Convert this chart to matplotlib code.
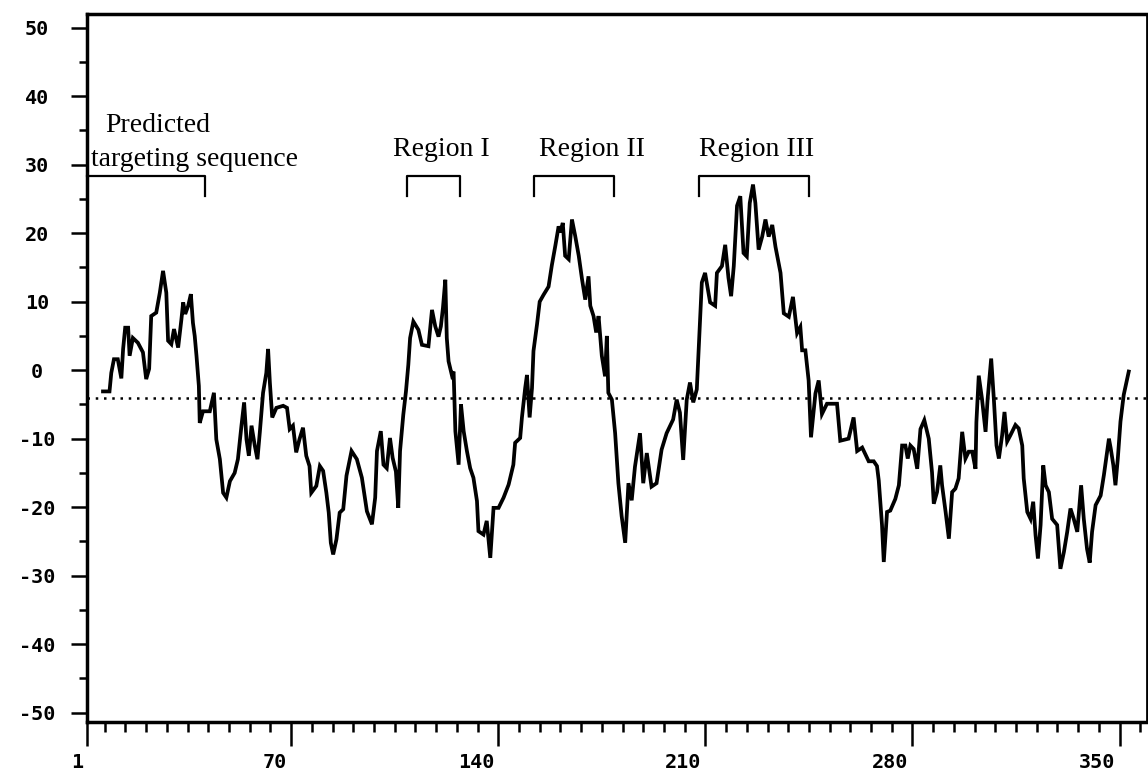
#!/usr/bin/env python3
"""hydropathy profile with targeting sequence and region brackets"""

import matplotlib
matplotlib.use('Agg')
import matplotlib.pyplot as plt
import matplotlib.transforms as mtransforms

# hydropathy trace (residue position, score)
resid = [
    6.4, 8.6, 9.2, 10.1, 11.4, 12.6, 13.2, 13.9, 14.9, 15.4, 16.5, 18.2, 19.9,
    21.0, 22.0, 22.7, 24.4, 25.6, 26.7, 27.8, 28.4, 29.5, 30.4, 31.8, 32.9,
    33.5, 34.2, 35.2, 36.1, 36.8, 37.4, 38.0, 38.8, 39.1, 40.2, 42.5, 43.9,
    44.7, 45.9, 47.0, 48.1, 49.3, 50.9, 52.0, 53.2, 54.1, 54.9, 55.7, 56.6,
    57.7, 58.6, 59.4, 60.5, 61.6, 62.2, 62.8, 63.6, 65.0, 67.3, 68.6, 69.5,
    70.6, 71.7, 72.8, 74.0, 75.1, 76.2, 76.8, 78.5, 79.7, 80.8, 81.9, 82.7,
    83.4, 84.2, 85.3, 86.4, 87.6, 88.7, 90.4,
    92.2, 93.9, 95.6, 97.3, 98.4, 99.0, 100.3, 101.2, 102.3, 103.4, 104.3,
    105.4, 106.2, 106.8, 107.9, 108.8, 109.6, 110.2, 111.3, 113.0, 114.2,
    116.4, 117.0, 117.6, 118.7, 119.8, 120.6, 121.3, 122.1, 122.6, 123.2,
    124.3, 124.9, 125.5, 126.6, 127.4, 128.3, 129.4, 130.5, 131.6, 132.8,
    133.3, 135.0, 136.1, 137.3, 138.4, 140.1, 141.8, 143.5, 145.1, 145.7,
    147.4, 148.0, 149.1, 149.7, 150.6, 151.4, 151.9, 153.1, 154.0, 155.3,
    157.0, 158.1, 159.3,
    160.4, 161.0, 161.8, 162.6, 163.8, 164.9, 166.0, 167.2, 168.3, 169.4,
    170.5, 171.1, 172.2, 173.1, 173.9, 175.0, 176.1, 176.7, 177.2, 178.4,
    179.5, 180.6, 181.7, 182.9, 184.0, 185.1, 186.2, 187.9, 189.0, 190.2,
    191.8, 193.5, 195.2, 196.9, 199.1, 200.3, 201.4, 202.5, 203.7, 204.8,
    205.9, 207.1, 208.2, 208.8, 209.9, 211.6, 213.3, 213.9, 215.6, 216.7,
    217.8, 218.7, 219.6, 220.7, 221.8, 222.9, 224.0, 225.0, 226.1, 226.9,
    228.0, 229.2, 230.3, 231.4, 232.6, 233.7, 235.4, 236.5, 238.2, 239.6,
    241.0, 242.1, 242.7, 243.8, 244.9, 245.7, 247.2, 248.3, 249.4, 251.1,
    254.5, 255.6, 258.4, 260.1, 261.3,
    263.0, 264.1, 265.2, 266.9, 268.0, 268.6, 269.7, 270.3, 271.4, 272.5,
    274.2, 275.4, 276.5, 277.6, 278.4, 279.3, 280.4, 281.6, 282.7, 284.0,
    285.5, 286.6, 287.2, 288.3, 289.4, 290.0, 291.2, 292.3, 293.4, 294.5,
    295.6, 296.8, 297.9, 299.0, 300.2, 301.3, 301.6, 302.4, 303.5, 304.7,
    305.4, 306.6, 307.5, 308.4, 309.2, 310.3, 311.1, 312.0, 313.1, 314.8,
    315.9, 317.1, 317.6, 318.8, 319.9, 320.8, 321.6, 322.4, 323.3, 324.2,
    325.0, 326.1, 327.2, 328.9, 330.0, 331.2, 332.3, 333.4, 334.5, 335.7,
    337.0, 337.9, 339.0, 339.9, 340.7, 341.9, 343.6, 344.7, 346.4, 347.0,
    347.9, 348.6, 349.4, 350.3, 351.4, 353.1,
]
score = [
    -3.1, -3.1, -0.4, 1.6, 1.6, -1.2, 3.1, 6.2, 6.2, 2.1, 4.7, 4.0, 2.6,
    -1.3, 0.2, 7.9, 8.4, 11.3, 14.5, 11.3, 4.3, 3.8, 6.0, 3.3, 7.4,
    9.9, 8.2, 9.4, 11.1, 6.9, 5.0, 2.1, -2.3, -7.7, -6.0, -6.0, -3.3,
    -10.1, -13.0, -17.9, -18.6, -16.2, -15.0, -13.0, -8.1, -4.7, -10.1, -12.5, -8.1,
    -11.0, -13.0, -9.1, -3.3, -0.4, 3.1, -1.8, -6.9, -5.5, -5.2, -5.5, -8.6,
    -8.1, -12.0, -10.1, -8.4, -12.5, -14.0, -17.9, -16.9, -14.0, -14.7, -17.9, -20.8,
    -25.2, -26.9, -24.7, -20.8, -20.3, -15.4, -11.8,
    -13.0, -15.7, -20.6, -22.5, -18.6, -11.8, -8.9, -13.8, -14.3, -9.9, -12.8,
    -14.8, -20.1, -11.8, -6.5, -3.1, 0.8, 4.7, 7.1, 5.9, 3.7,
    3.5, 6.2, 8.8, 6.4, 4.9, 6.4, 9.1, 13.2, 4.7, 1.3,
    -0.7, -0.2, -8.9, -13.8, -5.0, -8.9, -11.8, -14.3, -15.7, -19.1,
    -23.5, -24.0, -22.0, -27.4, -20.1, -20.1, -18.6, -16.7, -13.8, -10.6,
    -9.9, -6.9, -2.6, -0.7, -6.9, -2.6, 2.8, 6.7, 10.0, 11.0,
    12.2, 15.3, 18.2,
    21.0, 20.1, 21.5, 16.7, 16.2, 22.0, 19.6, 16.7, 13.3, 10.3,
    13.7, 9.4, 7.9, 5.5, 7.9, 2.1, -0.9, 5.0, -3.3, -4.3,
    -9.2, -16.5, -21.3, -25.2, -16.5, -19.0, -14.1, -9.2, -16.5, -12.1,
    -17.0, -16.5, -11.6, -9.2, -7.2, -4.3, -6.2, -13.1, -4.3, -1.8,
    -4.7, -2.8, 7.4, 12.8, 14.2, 9.9, 9.4, 14.2, 15.2, 18.3,
    13.5, 10.8, 15.2, 24.0, 25.4, 17.1, 16.6, 24.4, 27.1, 24.4,
    17.6, 19.5, 22.0, 19.5, 21.2, 18.0, 14.2, 8.3, 7.8, 10.7,
    5.4, 6.3, 2.9, 2.9, -1.5, -9.8, -3.4, -1.5, -6.4, -4.9,
    -4.9, -10.3, -10.0, -6.9, -11.8,
    -11.3, -12.3, -13.3, -13.3, -14.0, -16.1, -22.6, -28.0, -20.7, -20.5,
    -18.8, -16.8, -11.0, -11.0, -12.9, -11.0, -11.5, -14.4, -8.6, -7.3,
    -10.0, -14.9, -19.5, -17.8, -13.9, -16.8, -20.7, -24.6, -17.8, -17.3,
    -15.8, -9.0, -12.9, -11.9, -11.9, -14.4, -7.6, -0.8, -4.2, -9.0,
    -4.2, 1.7, -4.2, -11.0, -12.9, -9.5, -6.1, -10.4, -9.5, -8.0,
    -8.5, -11.0, -15.8, -20.7, -21.7, -19.2, -24.1, -27.5, -22.6, -13.9,
    -16.8, -17.8, -21.7, -22.6, -29.0, -26.5, -23.6, -20.2, -21.7, -23.6,
    -16.8, -21.7, -26.1, -28.1, -23.6, -19.7, -18.3, -15.3, -10.0, -11.4,
    -13.9, -16.8, -12.9, -7.5, -3.6, -0.2,
]

cutoff = -4.1  # dotted threshold line

# axis ticks
x_major = [1, 70, 140, 210, 280, 350]
x_minor = [t for t in range(7, 360, 7) if t % 70 != 0]
y_major = list(range(-50, 51, 10))
y_minor = list(range(-45, 50, 10))

# bracketed stretches: label, first and last residue
span_names = ['Predicted targeting sequence', 'Region I', 'Region II', 'Region III']
span_start = [1, 109, 152, 208]
span_end = [41, 127, 179, 245]

fig = plt.figure(figsize=(11.48, 7.76), dpi=100)
ax = fig.add_axes([0.0758, 0.0696, 0.9229, 0.9130])

ax.plot(resid, score, color='black', linewidth=2.7, solid_joinstyle='miter')
ax.axhline(cutoff, color='black', linewidth=1.8, linestyle=(0, (1, 2.3)))

ax.set_xlim(1, 359.1)
ax.set_ylim(-51.36, 52.07)

# brackets
top, leg = 28.4, 25.4
for name, s, e in zip(span_names, span_start, span_end):
    if s <= 1:
        ax.plot([s, e, e], [top, top, leg], color='black', linewidth=1.6,
                clip_on=False)
    else:
        ax.plot([s, s, e, e], [leg, top, top, leg], color='black',
                linewidth=1.6, clip_on=False)

serif = {'family': 'Liberation Serif', 'size': 20}
ax.text(7.1, 34.8, 'Predicted', ha='left', va='baseline', fontdict=serif)
ax.text(2.3, 29.8, 'targeting sequence', ha='left', va='baseline', fontdict=serif)
ax.text(104.5, 31.2, 'Region I', ha='left', va='baseline', fontdict=serif)
ax.text(153.6, 31.2, 'Region II', ha='left', va='baseline', fontdict=serif)
ax.text(207.7, 31.2, 'Region III', ha='left', va='baseline', fontdict=serif)

# axes frame and ticks
for side in ['left', 'bottom', 'top']:
    ax.spines[side].set_linewidth(2.5)
ax.spines['right'].set_linewidth(2.0)

ax.set_xticks(x_major)
ax.set_xticks(x_minor, minor=True)
ax.set_yticks(y_major)
ax.set_yticks(y_minor, minor=True)
ax.set_xticklabels([str(t) for t in x_major])
ax.set_yticklabels([str(t) for t in y_major])

ax.tick_params(axis='x', which='major', direction='out', length=17, width=1.8, pad=5.5)
ax.tick_params(axis='x', which='minor', direction='out', length=7, width=1.8)
ax.tick_params(axis='y', which='major', direction='out', length=11.5, width=1.8, pad=24.5)
ax.tick_params(axis='y', which='minor', direction='out', length=5.5, width=1.8)

shift = mtransforms.ScaledTranslation(-3 / 72, 0, fig.dpi_scale_trans)
for lbl in ax.get_xticklabels() + ax.get_yticklabels():
    lbl.set_family('DejaVu Sans Mono')
    lbl.set_weight('heavy')
    lbl.set_size(14.5)
for lbl in ax.get_xticklabels():
    lbl.set_horizontalalignment('right')
    lbl.set_transform(lbl.get_transform() + shift)
for lbl in ax.get_yticklabels():
    lbl.set_horizontalalignment('center')

fig.savefig('out.png', dpi=100)
